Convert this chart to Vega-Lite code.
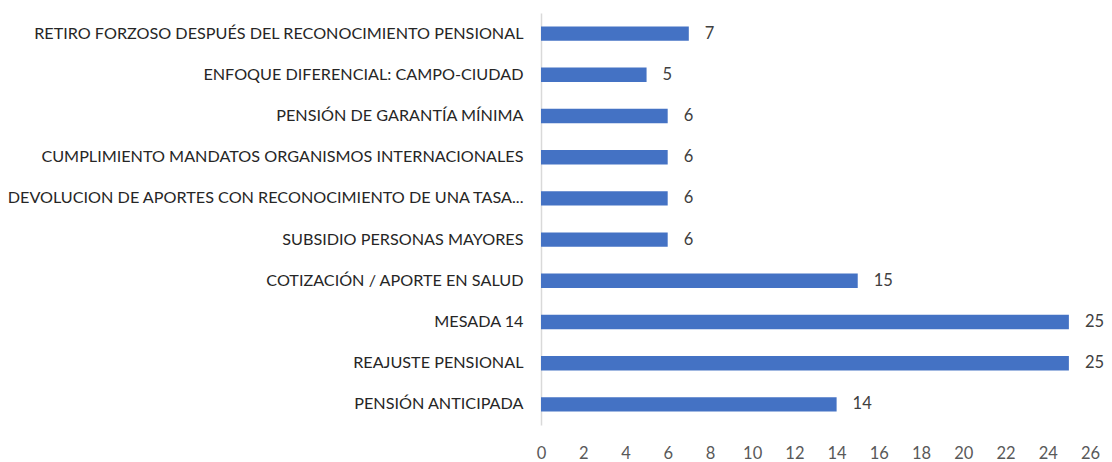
{
  "$schema": "https://vega.github.io/schema/vega-lite/v6.json",
  "autosize": {"type": "none"},
  "padding": {"left": 541, "top": 13, "right": 22, "bottom": 37},
  "width": 549,
  "height": 412,
  "background": "white",
  "config": {"view": {"stroke": null}, "font": "Lato"},
  "data": {
    "values": [
      {"tema": "RETIRO FORZOSO DESPUÉS DEL RECONOCIMIENTO PENSIONAL\u00a0", "valor": 7},
      {"tema": "ENFOQUE DIFERENCIAL: CAMPO-CIUDAD", "valor": 5},
      {"tema": "PENSIÓN DE GARANTÍA MÍNIMA\u00a0", "valor": 6},
      {"tema": "CUMPLIMIENTO MANDATOS ORGANISMOS INTERNACIONALES\u00a0", "valor": 6},
      {"tema": "DEVOLUCION DE APORTES CON RECONOCIMIENTO DE UNA TASA...", "valor": 6},
      {"tema": "SUBSIDIO PERSONAS MAYORES", "valor": 6},
      {"tema": "COTIZACIÓN / APORTE EN SALUD", "valor": 15},
      {"tema": "MESADA 14", "valor": 25},
      {"tema": "REAJUSTE PENSIONAL", "valor": 25},
      {"tema": "PENSIÓN ANTICIPADA", "valor": 14}
    ]
  },
  "encoding": {
    "y": {
      "field": "tema", "type": "nominal", "sort": null, "title": null,
      "scale": {"paddingInner": 0.65, "paddingOuter": 0.325},
      "axis": {"ticks": false, "domainColor": "#d9d9d9", "domainWidth": 1.5, "labelColor": "#262626", "labelFontSize": 16.2, "labelPadding": 18, "labelLimit": 600, "grid": false}
    },
    "x": {
      "field": "valor", "type": "quantitative", "title": null,
      "scale": {"domain": [0, 26], "nice": false},
      "axis": {"values": [0,2,4,6,8,10,12,14,16,18,20,22,24,26], "domain": false, "ticks": false, "grid": false, "labelColor": "#595959", "labelFontSize": 16.5, "labelPadding": 20, "labelFlush": false}
    }
  },
  "layer": [
    {"mark": {"type": "bar", "color": "#4472C4"}},
    {"mark": {"type": "text", "align": "left", "baseline": "middle", "dx": 16, "fontSize": 16.5, "color": "#404040"},
     "encoding": {"text": {"field": "valor", "type": "quantitative"}}}
  ]
}
